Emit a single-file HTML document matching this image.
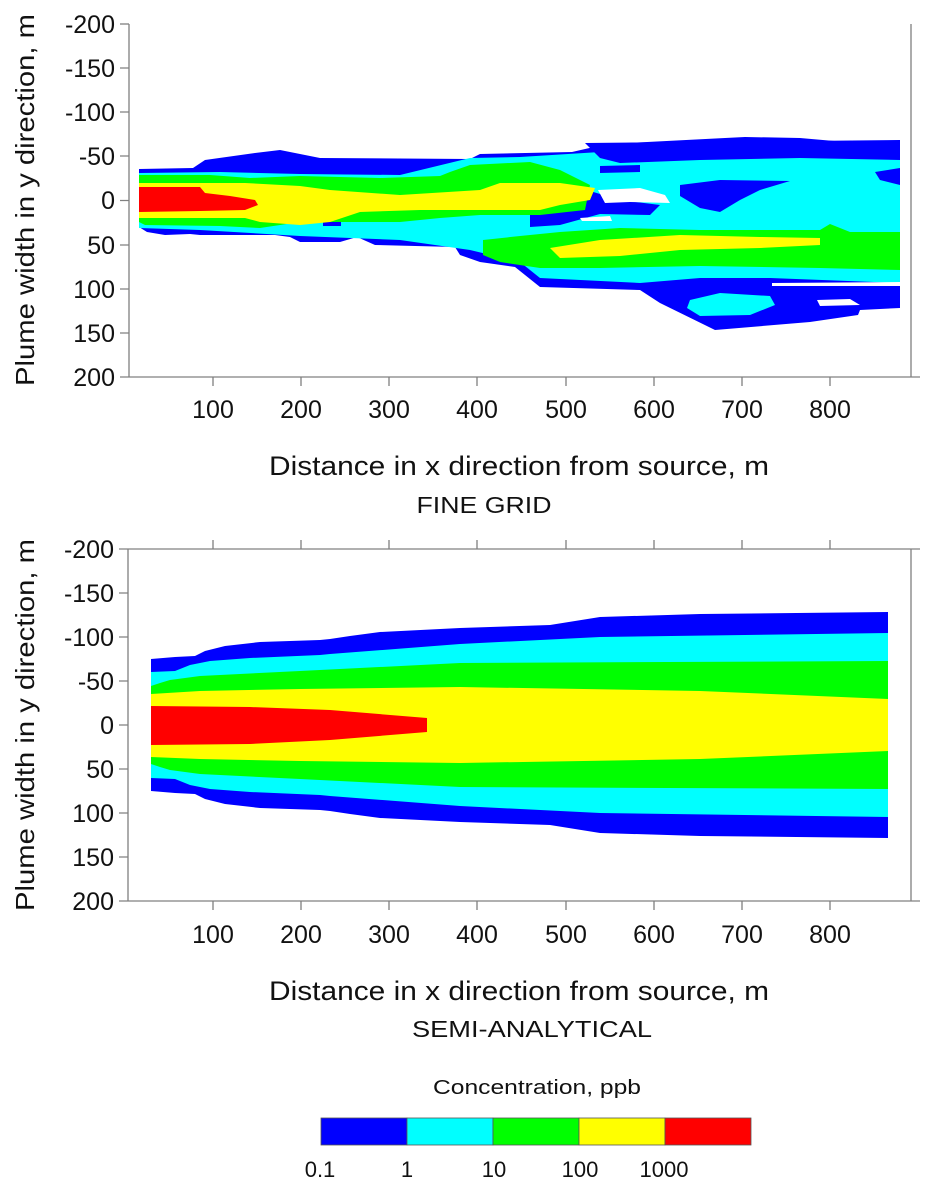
<!DOCTYPE html>
<html><head><meta charset="utf-8"><style>
body{margin:0;background:#fff;}
svg{display:block;font-family:"Liberation Sans",sans-serif;}
</style></head><body>
<svg width="930" height="1198" viewBox="0 0 930 1198" xmlns="http://www.w3.org/2000/svg">
<!-- ===== TOP PLOT ===== -->
<g stroke="none">
<path fill="#0000ff" d="M139,169 L193,168 L205,160 L255,153 L280,150 L320,158 L470,159 L480,154 L572,152 L607,144 L725,138 L745,137 L800,138 L880,145 L900,144 L900,308 L860,310 L858,315 L810,322 L715,330 L660,303 L640,290 L540,287 L515,267 L480,262 L460,255 L455,247 L375,245 L357,237 L340,242 L300,242 L290,237 L275,235 L200,235 L190,234 L165,235 L147,232 L139,227 Z"/>
<path fill="#00ffff" d="M139,173 L220,172 L300,174 L400,175 L470,158 L520,157 L600,152 L620,160 L700,157 L800,156 L900,153 L900,283 L770,278 L700,278 L640,283 L540,278 L520,262 L470,250 L400,240 L300,236 L200,230 L139,228 Z"/>
<path fill="#00ffff" d="M690,300 L720,293 L770,296 L775,305 L750,315 L700,316 L687,308 Z"/>
<path fill="#0000ff" d="M585,143 L900,140 L900,160 L800,158 L700,160 L620,163 L600,158 Z"/>
<path fill="#0000ff" d="M530,198 L580,188 L620,200 L660,205 L650,215 L600,214 L560,225 L530,227 Z"/>
<path fill="#0000ff" d="M680,185 L720,180 L790,181 L760,190 L740,200 L720,212 L700,208 L680,196 Z"/>
<path fill="#0000ff" d="M600,166 L640,165 L640,172 L600,173 Z"/>
<path fill="#0000ff" d="M417,186 L450,180 L493,181 L480,190 L440,197 L420,196 Z"/>
<path fill="#0000ff" d="M323,220 L341,220 L341,226 L323,226 Z"/>
<path fill="#0000ff" d="M875,172 L900,168 L900,185 L880,180 Z"/>
<path fill="#00ff00" d="M139,175 L210,175 L250,178 L300,176 L380,178 L440,176 L450,172 L470,165 L530,162 L560,170 L590,185 L585,210 L540,215 L480,215 L440,218 L400,222 L340,222 L300,222 L260,228 L220,226 L145,225 L139,222 Z"/>
<path fill="#00ff00" d="M483,240 L520,236 L560,232 L620,228 L700,230 L820,230 L830,224 L850,232 L900,232 L900,270 L820,268 L700,266 L600,268 L540,268 L500,262 L483,255 Z"/>
<path fill="#ffff00" d="M139,183 L245,183 L300,186 L330,190 L400,195 L480,190 L500,183 L560,183 L595,188 L590,200 L560,205 L540,210 L480,210 L420,210 L360,212 L330,222 L300,225 L260,222 L245,218 L139,218 Z"/>
<path fill="#ffff00" d="M550,248 L600,240 L680,235 L760,237 L820,238 L820,245 L760,248 L680,250 L620,256 L560,258 Z"/>
<path fill="#ff0000" d="M139,187 L200,187 L205,193 L230,196 L255,200 L258,205 L245,210 L200,211 L139,212 Z"/>
<path fill="#fff" d="M598,190 L640,188 L665,195 L670,203 L630,202 L605,203 Z"/>
<path fill="#fff" d="M580,218 L610,216 L612,221 L582,221 Z"/>
<path fill="#fff" d="M817,300 L850,299 L860,305 L820,306 Z"/>
<path fill="#fff" d="M772,283 L900,282 L900,286 L772,286 Z"/>
</g>
<g stroke="#808080" stroke-width="1.3" fill="none">
<line x1="129" y1="24" x2="129" y2="377"/>
<line x1="120" y1="377" x2="920" y2="377"/>
<line x1="120" y1="24" x2="129" y2="24"/>
<line x1="911" y1="24" x2="911" y2="377"/>
<path d="M120,68H129M120,112H129M120,156H129M120,200.5H129M120,245H129M120,289H129M120,333H129"/>
<path d="M213,377V386M301,377V386M389,377V386M477,377V386M566,377V386M654,377V386M742,377V386M830,377V386"/>
</g>
<g font-size="25" fill="#111" text-anchor="end">
<text x="115" y="33">-200</text><text x="115" y="77">-150</text><text x="115" y="121">-100</text><text x="115" y="165">-50</text><text x="115" y="209">0</text><text x="115" y="254">50</text><text x="115" y="298">100</text><text x="115" y="342">150</text><text x="115" y="386">200</text>
</g>
<g font-size="25" fill="#111" text-anchor="middle">
<text x="213" y="418">100</text><text x="301" y="418">200</text><text x="389" y="418">300</text><text x="477" y="418">400</text><text x="566" y="418">500</text><text x="654" y="418">600</text><text x="742" y="418">700</text><text x="830" y="418">800</text>
<text x="519" y="475" font-size="27" textLength="500" lengthAdjust="spacingAndGlyphs">Distance in x direction from source, m</text>
<text x="484" y="513" font-size="23" textLength="135" lengthAdjust="spacingAndGlyphs">FINE GRID</text>
<text transform="translate(34,200) rotate(-90)" font-size="26" textLength="372" lengthAdjust="spacingAndGlyphs">Plume width in y direction, m</text>
</g>

<!-- ===== BOTTOM PLOT ===== -->
<g stroke="none">
<path fill="#0000ff" d="M151,659 L175,657 L195,656 L205,651 L225,646 L260,642 L320,640 L330,639 L350,636 L380,632 L460,628 L550,625 L600,617 L700,614 L888,612 L888,838 L700,836 L600,833 L550,825 L460,822 L380,818 L350,814 L330,811 L320,810 L260,808 L225,804 L205,799 L195,794 L175,793 L151,791 Z"/>
<path fill="#00ffff" d="M151,672 L175,671 L190,665 L210,661 L250,658 L320,655 L330,654 L460,644 L600,637 L888,633 L888,817 L600,813 L460,806 L330,796 L320,795 L250,792 L210,789 L190,785 L175,779 L151,778 Z"/>
<path fill="#00ff00" d="M151,686 L160,683 L170,680 L200,676 L300,671 L460,663 L888,661 L888,789 L460,787 L300,779 L200,774 L170,770 L160,767 L151,764 Z"/>
<path fill="#ffff00" d="M151,694 L200,691 L300,689 L460,687 L700,691 L888,699 L888,751 L700,759 L460,763 L300,761 L200,759 L151,757 Z"/>
<path fill="#ff0000" d="M151,706 L250,707 L330,710 L427,718 L427,732 L330,740 L250,744 L151,745 Z"/>
</g>
<g stroke="#808080" stroke-width="1.3" fill="none">
<line x1="128" y1="549" x2="128" y2="901"/>
<line x1="119" y1="901" x2="920" y2="901"/>
<line x1="119" y1="549" x2="920" y2="549"/>
<line x1="911" y1="549" x2="911" y2="901"/>
<path d="M119,593H128M119,637H128M119,681H128M119,725H128M119,769H128M119,813H128M119,857H128"/>
<path d="M213,901V910M301,901V910M389,901V910M477,901V910M566,901V910M654,901V910M742,901V910M830,901V910"/>
<path d="M213,549V540M301,549V540M389,549V540M477,549V540M566,549V540M654,549V540M742,549V540M830,549V540"/>
</g>
<g font-size="25" fill="#111" text-anchor="end">
<text x="114" y="558">-200</text><text x="114" y="602">-150</text><text x="114" y="646">-100</text><text x="114" y="690">-50</text><text x="114" y="734">0</text><text x="114" y="778">50</text><text x="114" y="822">100</text><text x="114" y="866">150</text><text x="114" y="910">200</text>
</g>
<g font-size="25" fill="#111" text-anchor="middle">
<text x="213" y="943">100</text><text x="301" y="943">200</text><text x="389" y="943">300</text><text x="477" y="943">400</text><text x="566" y="943">500</text><text x="654" y="943">600</text><text x="742" y="943">700</text><text x="830" y="943">800</text>
<text x="519" y="1000" font-size="27" textLength="500" lengthAdjust="spacingAndGlyphs">Distance in x direction from source, m</text>
<text x="532" y="1037" font-size="23" textLength="240" lengthAdjust="spacingAndGlyphs">SEMI-ANALYTICAL</text>
<text transform="translate(34,725) rotate(-90)" font-size="26" textLength="372" lengthAdjust="spacingAndGlyphs">Plume width in y direction, m</text>
</g>

<!-- ===== COLORBAR ===== -->
<text x="537" y="1094" font-size="20" text-anchor="middle" fill="#111" textLength="208" lengthAdjust="spacingAndGlyphs">Concentration, ppb</text>
<g stroke="#555" stroke-width="0.8">
<rect x="321" y="1118" width="86" height="27" fill="#0000ff"/>
<rect x="407" y="1118" width="86" height="27" fill="#00ffff"/>
<rect x="493" y="1118" width="86" height="27" fill="#00ff00"/>
<rect x="579" y="1118" width="86" height="27" fill="#ffff00"/>
<rect x="665" y="1118" width="86" height="27" fill="#ff0000"/>
</g>
<g font-size="22" fill="#111" text-anchor="middle">
<text x="320" y="1177">0.1</text><text x="407" y="1177">1</text><text x="494" y="1177">10</text><text x="580" y="1177">100</text><text x="664" y="1177">1000</text>
</g>
</svg>
</body></html>
